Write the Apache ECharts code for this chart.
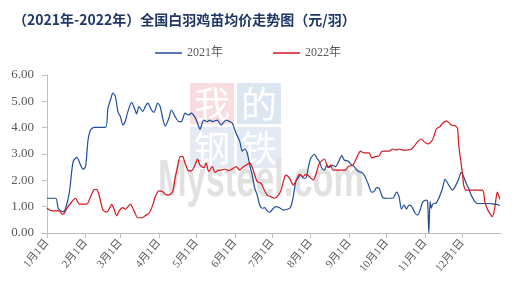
<!DOCTYPE html>
<html>
<head>
<meta charset="utf-8">
<script src="https://cdn.jsdelivr.net/npm/echarts@6/dist/echarts.min.js"></script>
<style>
html,body{margin:0;padding:0;background:#fff;}
#chart{width:522px;height:295px;}
</style>
</head>
<body>
<div id="chart"></div>
<script>
// ---- data ----
const BASE_YEAR = 2021; // both years drawn on the same month-day axis
const seriesNames = ['2021年', '2022年'];
const titleText = '（2021年-2022年）全国白羽鸡苗均价走势图（元/羽）';
const yTicks = [0, 1, 2, 3, 4, 5, 6];

const dates2021 = ['01-01','01-08','01-10','01-12','01-14','01-16','01-19','01-22','01-25','01-28','01-30',
'02-01','02-03','02-05','02-08','02-17','02-19','02-21','02-23','02-25','02-27',
'03-01','03-03','03-05','03-07','03-10','03-13','03-14','03-16','03-19','03-21','03-23','03-26','03-28','03-31',
'04-02','04-04','04-06','04-09','04-11','04-14','04-17','04-19','04-22','04-25','04-27','04-30',
'05-02','05-04','05-07','05-10','05-12','05-14','05-18','05-21','05-25','05-28','05-30',
'06-02','06-05','06-07','06-09','06-11','06-13','06-15','06-17','06-19','06-21','06-23','06-25','06-27','06-29',
'07-02','07-04','07-07','07-10','07-14','07-16','07-18','07-20','07-22','07-24','07-26','07-28','07-30',
'08-01','08-04','08-06','08-08','08-10','08-12','08-14','08-16','08-18','08-21','08-24','08-26','08-28','08-31',
'09-03','09-05','09-08','09-11','09-13','09-16','09-19','09-21','09-23','09-25','09-28',
'10-01','10-06','10-09','10-11','10-13','10-15','10-17','10-19','10-21','10-24','10-26','10-28','10-30',
'11-02','11-03','11-04','11-05','11-06','11-07','11-10','11-12','11-15','11-17','11-20','11-23','11-25','11-28','11-30',
'12-02','12-04','12-06','12-08','12-11','12-13','12-23','12-27','12-29','12-31'];
const values2021 = [1.32,1.32,0.94,0.84,0.81,0.94,1.55,2.71,2.87,2.58,2.42,
2.52,3.53,3.91,4.01,4.01,4.74,5.05,5.31,5.18,4.61,
4.42,4.10,4.25,4.61,4.96,4.65,4.52,4.80,4.61,4.80,4.93,4.67,4.58,4.93,
4.80,4.36,4.06,4.36,4.67,4.42,4.23,4.23,4.55,4.48,4.55,4.39,
4.17,3.94,4.29,4.23,4.29,4.23,4.29,4.10,4.29,4.23,4.17,
3.79,3.47,3.11,3.19,3.03,2.58,2.20,1.70,1.44,1.06,0.94,0.96,0.84,0.79,
0.94,1.00,0.96,0.87,0.91,1.00,1.38,1.95,2.10,2.20,2.08,2.08,2.46,
2.84,2.99,2.84,2.71,2.46,2.39,2.58,2.48,2.58,2.52,2.77,2.94,2.77,2.73,
2.58,2.52,2.35,2.30,2.20,1.89,1.55,1.57,1.72,1.70,1.34,
1.32,1.32,1.55,1.38,0.91,1.06,0.91,1.06,1.02,0.75,0.68,0.87,1.17,
1.25,1.20,0.00,1.19,0.94,1.09,1.15,1.32,1.70,2.04,1.82,1.63,1.75,2.05,2.30,
2.14,1.89,1.70,1.44,1.19,1.12,1.12,1.09,1.09,1.03];

const dates2022 = ['01-01','01-05','01-11','01-13','01-15','01-17','01-20','01-24','01-27',
'02-02','02-05','02-08','02-10','02-12','02-15','02-18','02-20','02-22','02-24','02-26','02-28',
'03-03','03-05','03-09','03-12','03-15','03-19','03-21','03-24','03-27','03-29',
'04-01','04-04','04-06','04-09','04-12','04-14','04-16','04-18','04-20','04-22','04-25','04-27','04-30',
'05-02','05-04','05-07','05-09','05-11','05-14','05-16','05-19','05-21','05-24','05-27','05-30',
'06-02','06-05','06-07','06-10','06-13','06-15','06-17','06-19','06-22','06-24','06-27','06-30',
'07-03','07-05','07-08','07-10','07-12','07-15','07-18','07-20','07-23','07-26','07-28','07-31',
'08-03','08-06','08-08','08-12','08-15','08-17','08-19','08-29','08-31',
'09-04','09-08','09-10','09-13','09-17','09-19','09-22','09-25','09-27','09-29',
'10-03','10-06','10-09','10-11','10-14','10-17','10-21','10-23','10-26','10-29','10-31',
'11-03','11-06','11-08','11-10','11-13','11-15','11-18','11-20','11-22','11-25','11-27','11-28','11-29',
'12-01','12-02','12-04','12-17','12-19','12-21','12-23','12-25','12-27','12-29','12-30','12-31'];
const values2022 = [0.94,0.84,0.84,0.72,0.75,0.94,1.13,1.32,1.10,
1.10,1.38,1.65,1.66,1.41,0.87,0.79,0.91,1.09,0.90,0.65,0.84,
0.96,0.91,1.10,0.84,0.58,0.58,0.66,0.75,1.06,1.38,
1.60,1.57,1.47,1.44,1.57,2.08,2.52,2.90,2.90,2.65,2.36,2.36,2.58,
2.81,2.58,2.48,2.65,2.33,2.52,2.30,2.39,2.39,2.43,2.37,2.43,
2.52,2.39,2.48,2.58,2.65,2.50,2.20,1.95,1.89,1.70,1.44,1.38,
1.32,1.38,1.60,1.95,2.20,2.08,1.82,1.95,2.23,2.14,2.23,2.14,
2.01,2.35,2.65,2.81,2.48,2.58,2.39,2.39,2.52,
2.58,2.96,3.11,3.04,3.04,2.86,2.90,2.93,3.09,3.11,
3.11,3.19,3.15,3.19,3.15,3.15,3.19,3.28,3.47,3.57,3.47,
3.38,3.47,3.66,3.95,4.04,4.17,4.25,4.20,4.10,4.07,3.98,3.34,2.96,
2.27,1.82,1.63,1.63,1.19,0.91,0.75,0.62,0.96,1.55,1.44,1.28];

// ---- chart ----
const toTime = md => BASE_YEAR + '-' + md;
const serif = '"Liberation Serif", "Times New Roman", "Noto Sans CJK SC", serif';
const chart = echarts.init(document.getElementById('chart'), null, {renderer: 'canvas'});
const DAY = 86400000;

chart.setOption({
  animation: false,
  backgroundColor: '#fff',
  title: {
    text: titleText,
    left: 8, top: 8,
    textStyle: {fontSize: 14, fontWeight: 'bold', color: '#1F3868', fontFamily: '"Noto Sans CJK SC", sans-serif'}
  },
  legend: {
    data: seriesNames,
    left: 150, top: 42,
    icon: 'rect',
    itemWidth: 27, itemHeight: 1.5, itemGap: 50,
    textStyle: {fontSize: 12, color: '#595959', fontFamily: serif}
  },
  graphic: [
    {type: 'rect', z: 0, shape: {x: 190, y: 83, width: 44, height: 41}, style: {fill: '#F8DCDE'}},
    {type: 'rect', z: 0, shape: {x: 237, y: 83, width: 44, height: 41}, style: {fill: '#DCE6F2'}},
    {type: 'rect', z: 0, shape: {x: 190, y: 127, width: 44, height: 41}, style: {fill: '#E3EAF4'}},
    {type: 'rect', z: 0, shape: {x: 237, y: 127, width: 44, height: 41}, style: {fill: '#E3EAF4'}},
    {type: 'text', z: 0, x: 212, y: 104, style: {text: '我', fill: '#fff', font: '36px "Noto Sans CJK SC"', align: 'center', verticalAlign: 'middle'}},
    {type: 'text', z: 0, x: 259, y: 104, style: {text: '的', fill: '#fff', font: '36px "Noto Sans CJK SC"', align: 'center', verticalAlign: 'middle'}},
    {type: 'text', z: 0, x: 212, y: 148, style: {text: '钢', fill: '#fff', font: '36px "Noto Sans CJK SC"', align: 'center', verticalAlign: 'middle'}},
    {type: 'text', z: 0, x: 259, y: 148, style: {text: '铁', fill: '#fff', font: '36px "Noto Sans CJK SC"', align: 'center', verticalAlign: 'middle'}},
    {type: 'text', z: 1, x: 158, y: 182, scaleX: 0.66, style: {text: 'Mysteel.com', fill: '#E1E1E1', font: 'bold 52px "Liberation Sans"', align: 'left', verticalAlign: 'middle'}}
  ],
  grid: {left: 47, right: 21, top: 75, bottom: 62, containLabel: false},
  xAxis: {
    type: 'time',
    min: toTime('01-01'),
    max: (BASE_YEAR + 1) + '-01-01',
    splitNumber: 12,
    minInterval: 28 * DAY,
    maxInterval: 31 * DAY,
    axisLine: {show: true, lineStyle: {color: '#BFBFBF', width: 1}},
    axisTick: {show: true, length: 5, lineStyle: {color: '#BFBFBF'}},
    splitLine: {show: false},
    axisLabel: {
      rotate: 50,
      margin: 8,
      fontSize: 11,
      color: '#595959',
      fontFamily: serif,
      showMaxLabel: false,
      formatter: function (val) {
        const d = new Date(val);
        if (d.getFullYear() !== BASE_YEAR) return '';
        return (d.getMonth() + 1) + '月' + d.getDate() + '日';
      }
    }
  },
  yAxis: {
    type: 'value',
    min: yTicks[0], max: yTicks[yTicks.length - 1], interval: 1,
    axisLine: {show: true, lineStyle: {color: '#BFBFBF', width: 1}},
    axisTick: {show: true, length: 5, lineStyle: {color: '#BFBFBF'}},
    splitLine: {show: false},
    axisLabel: {
      margin: 13, fontSize: 13, color: '#595959', fontFamily: serif,
      formatter: v => v.toFixed(2)
    }
  },
  series: [
    {
      name: seriesNames[0], type: 'line', symbol: 'none', smooth: 0.25, z: 3,
      itemStyle: {color: '#1F4E9B'},
      lineStyle: {color: '#1F4E9B', width: 1.2},
      data: dates2021.map((d, i) => [toTime(d), values2021[i]])
    },
    {
      name: seriesNames[1], type: 'line', symbol: 'none', smooth: 0.25, z: 4,
      itemStyle: {color: '#D7141E'},
      lineStyle: {color: '#D7141E', width: 1.2},
      data: dates2022.map((d, i) => [toTime(d), values2022[i]])
    }
  ]
});
</script>
</body>
</html>
